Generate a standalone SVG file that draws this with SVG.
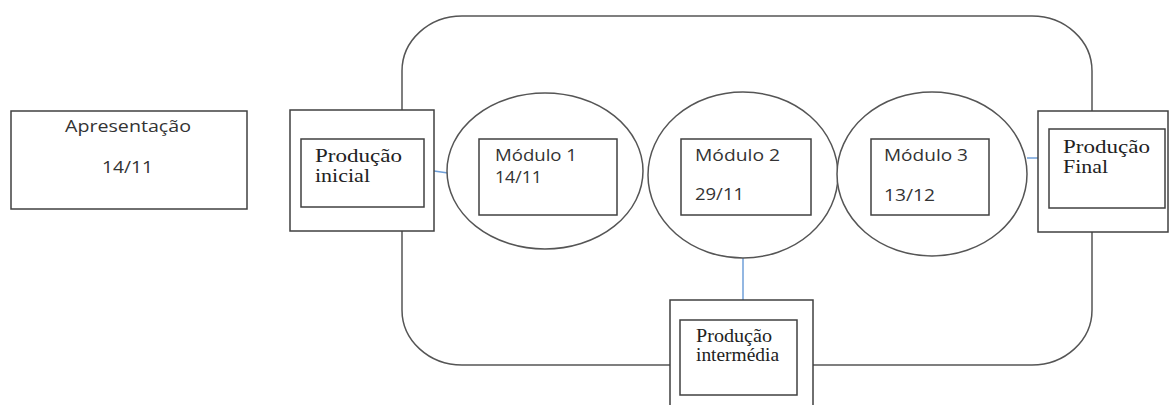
<svg xmlns="http://www.w3.org/2000/svg" width="1171" height="405" viewBox="0 0 1171 405">
<style>
.box{fill:#fff;stroke:#404040;stroke-width:1.5}
.frame{fill:none;stroke:#555;stroke-width:1.5}
.ell{fill:#fff;stroke:#555;stroke-width:1.5}
.con{stroke:#6f9fd8;stroke-width:1.5;fill:none}
.sans{font-family:"Open Sans","Liberation Sans",sans-serif;font-size:17px;fill:#333}
.serif{font-family:"Liberation Serif","DejaVu Serif",serif;font-size:18px;fill:#222}
</style>
<rect width="1171" height="405" fill="#fff"/>
<rect id="frame" class="frame" x="402" y="16" width="690" height="349" rx="60" ry="55"/>
<g id="connectors">
<line class="con" x1="434" y1="171" x2="448" y2="173"/>
<line class="con" x1="743" y1="257" x2="743" y2="300"/>
<line class="con" x1="1027" y1="158" x2="1038" y2="158"/>
</g>
<g id="apresentacao">
<rect class="box" x="11" y="111" width="236" height="98"/>
<text class="sans" x="65" y="132" textLength="126" lengthAdjust="spacingAndGlyphs">Apresentação</text>
<text class="sans" x="102" y="173" textLength="51" lengthAdjust="spacingAndGlyphs">14/11</text>
</g>
<g id="producao-inicial">
<rect class="box" x="290" y="110" width="144" height="121"/>
<rect class="box" x="301" y="139" width="123" height="68"/>
<text class="serif" x="315" y="162" textLength="87" lengthAdjust="spacingAndGlyphs">Produção</text>
<text class="serif" x="315" y="182" textLength="55" lengthAdjust="spacingAndGlyphs">inicial</text>
</g>
<g id="modulo1">
<ellipse class="ell" cx="545" cy="171" rx="98" ry="78"/>
<rect class="box" x="479" y="139" width="138" height="76"/>
<text class="sans" x="495" y="161" textLength="82" lengthAdjust="spacingAndGlyphs">Módulo 1</text>
<text class="sans" x="495" y="183" textLength="47" lengthAdjust="spacingAndGlyphs">14/11</text>
</g>
<g id="modulo2">
<ellipse class="ell" cx="743" cy="175" rx="95" ry="83"/>
<rect class="box" x="681" y="139" width="130" height="76"/>
<text class="sans" x="695" y="161" textLength="85" lengthAdjust="spacingAndGlyphs">Módulo 2</text>
<text class="sans" x="695" y="200" textLength="49" lengthAdjust="spacingAndGlyphs">29/11</text>
</g>
<g id="modulo3">
<ellipse class="ell" cx="932" cy="174" rx="95" ry="82"/>
<rect class="box" x="871" y="139" width="118" height="76"/>
<text class="sans" x="884" y="161" textLength="84" lengthAdjust="spacingAndGlyphs">Módulo 3</text>
<text class="sans" x="884" y="201" textLength="51" lengthAdjust="spacingAndGlyphs">13/12</text>
</g>
<g id="producao-final">
<rect class="box" x="1038" y="111" width="130" height="121"/>
<rect class="box" x="1049" y="129" width="116" height="79"/>
<text class="serif" x="1063" y="153" textLength="87" lengthAdjust="spacingAndGlyphs">Produção</text>
<text class="serif" x="1063" y="173" textLength="45" lengthAdjust="spacingAndGlyphs">Final</text>
</g>
<g id="producao-intermedia">
<rect class="box" x="670" y="300" width="143" height="110"/>
<rect class="box" x="680" y="320" width="117" height="75"/>
<text class="serif" x="696" y="342" font-size="16" textLength="76" lengthAdjust="spacingAndGlyphs">Produção</text>
<text class="serif" x="696" y="361" font-size="16" textLength="83" lengthAdjust="spacingAndGlyphs">intermédia</text>
</g>
</svg>
